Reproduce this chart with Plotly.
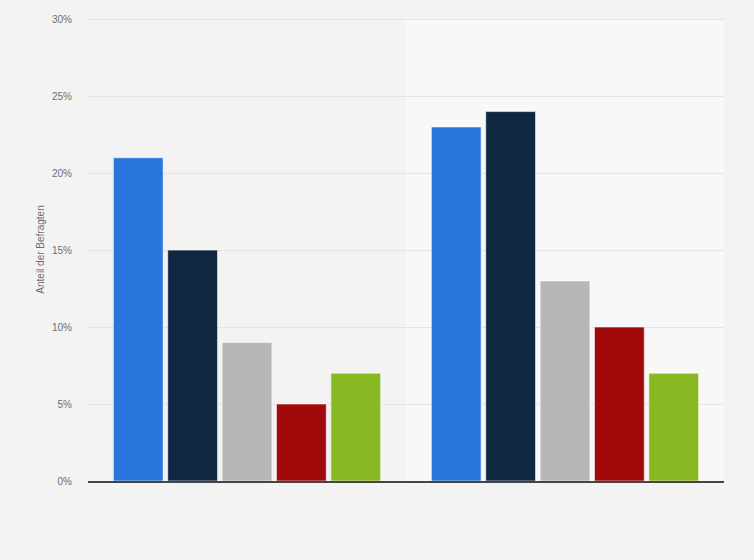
import plotly.graph_objects as go

# two survey groups (no category labels are shown in the original)
categories = ["Gruppe A", "Gruppe B"]
series_names = ["Antwort 1", "Antwort 2", "Antwort 3", "Antwort 4", "Antwort 5"]
series_values = [
    [21, 23],
    [15, 24],
    [9, 13],
    [5, 10],
    [7, 7],
]
colors = ["#2876dd", "#0f2740", "#b7b7b7", "#a10a0a", "#88b922"]
tick_vals = [0, 5, 10, 15, 20, 25, 30]
tick_text = ["0%", "5%", "10%", "15%", "20%", "25%", "30%"]

fig = go.Figure()
for name, vals, col in zip(series_names, series_values, colors):
    fig.add_trace(go.Bar(
        x=categories, y=vals, name=name,
        marker=dict(color=col, line=dict(color="rgba(255,255,255,0.55)", width=1)),
    ))

layout = dict(
    width=754, height=560,
    barmode="group", bargap=0.145, bargroupgap=0.085,
    paper_bgcolor="#f3f3f3", plot_bgcolor="#f3f3f3",
    margin=dict(l=88, r=30, t=18, b=79),
    showlegend=False,
    font=dict(family="Liberation Sans, Arial, sans-serif", size=10, color="#6e6e6e"),
    xaxis=dict(showticklabels=False, showgrid=False, ticks="", zeroline=False,
               showline=True, linecolor="#444444", linewidth=1.5),
    yaxis=dict(range=[0, 30.08], tickvals=tick_vals, ticktext=tick_text,
               showgrid=True, gridcolor="#d2d2d2", griddash="1px,1px", gridwidth=1,
               zeroline=False, ticks="", ticklabelstandoff=15,
               title=dict(text="Anteil der Befragten", font=dict(size=10, color="#6e6e6e"),
                          standoff=5)),
)
layout.update(dict(shapes=[dict(type="rect", xref="x", yref="y", x0=0.5, x1=1.5, y0=0, y1=30,
                                fillcolor="#f8f8f8", line=dict(width=0), layer="below")]))

fig.update_layout(layout)
# drop the browser's default page margin so the figure sits at the window's corner
fig.write_html("out.html", config={"displayModeBar": False},
               post_script="document.body.style.margin='0';document.body.style.background='#f3f3f3';")
